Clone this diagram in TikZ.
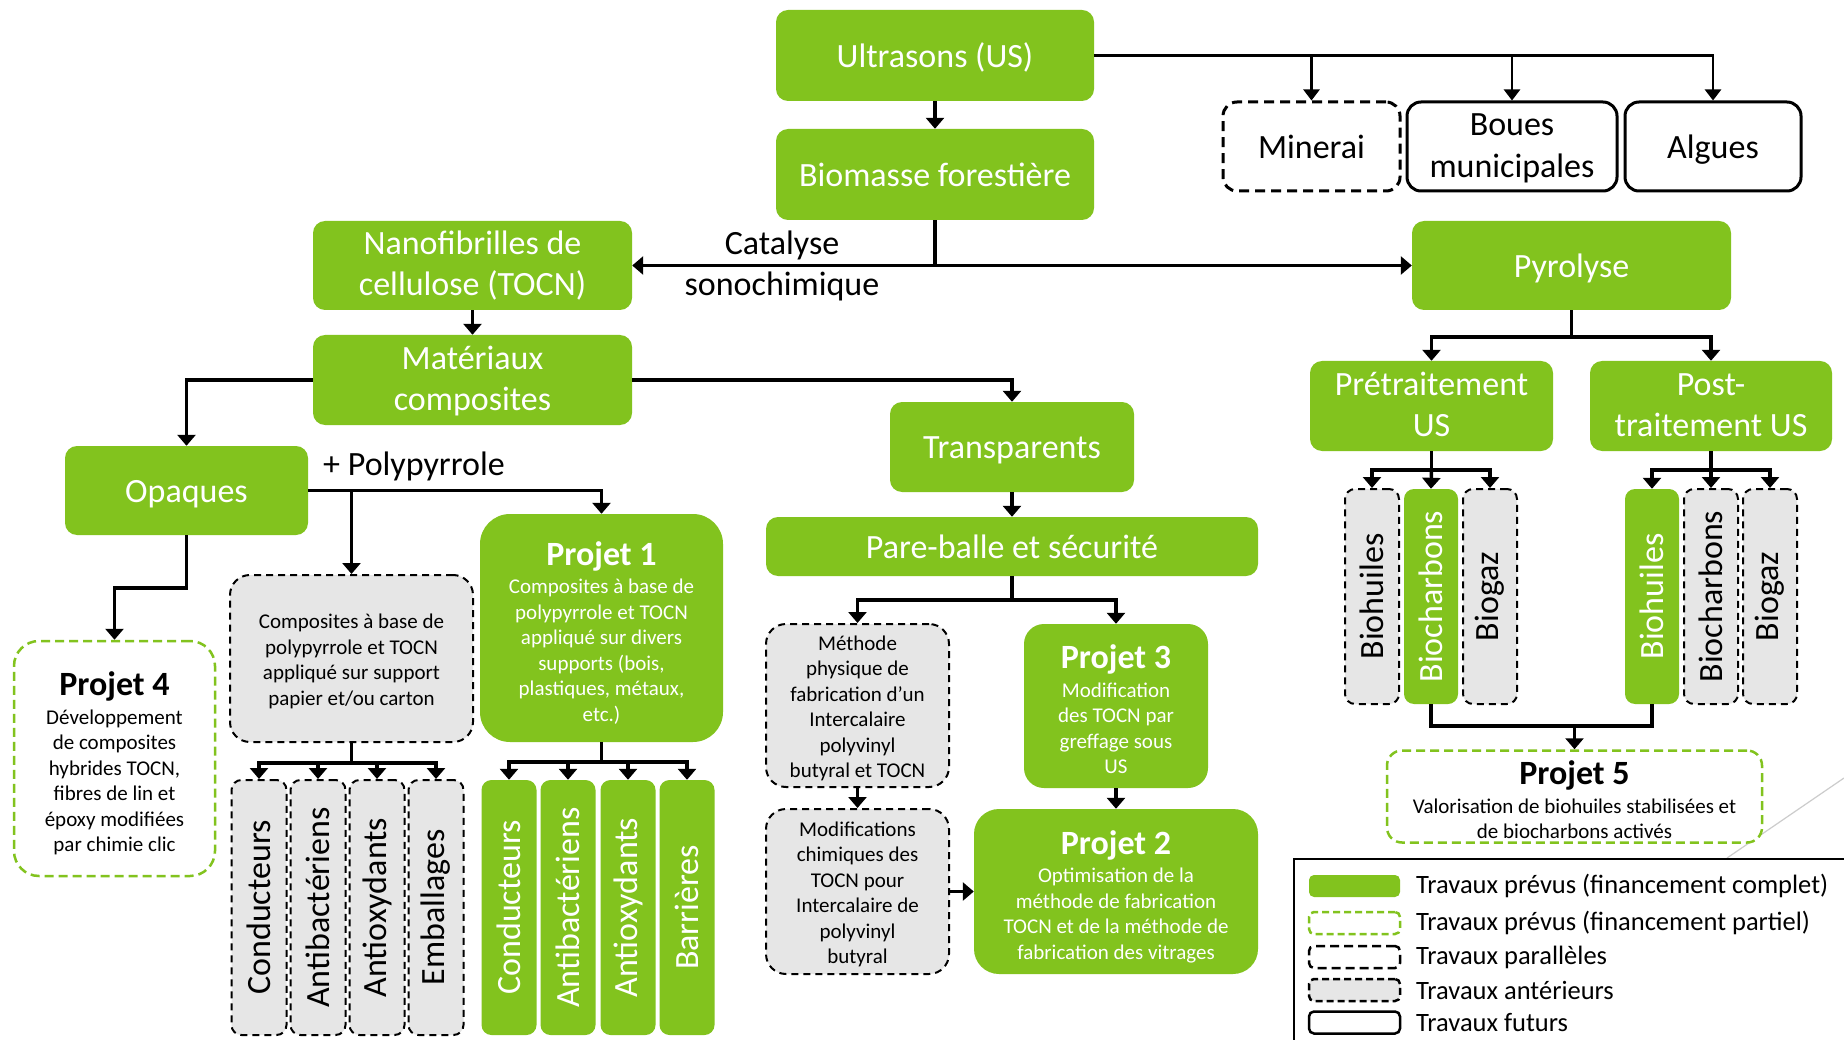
\documentclass[tikz,border=0pt]{standalone}
\usepackage{fontspec}
\setmainfont{Carlito}
\usepackage{graphicx}
\usetikzlibrary{arrows.meta,calc}
\definecolor{lime}{RGB}{130,195,30}
\definecolor{pale}{RGB}{230,230,230}
\newcommand\mymain{\fontsize{34}{41}\selectfont}
\newcommand\mybody{\fontsize{21}{25.5}\selectfont}
\newcommand\mytitle{\fontsize{34}{36}\selectfont\bfseries}
\newcommand\mylegend{\fontsize{26.5}{30}\selectfont}
\begin{document}
\begin{tikzpicture}[x=1pt,y=-1pt,
  sz/.style 2 args={minimum width=#1pt, minimum height=#2pt},
  mstrut/.style={execute at begin node={\rule{0pt}{31pt}}, execute at end node={\rule[-7.5pt]{0pt}{7.5pt}}},
  two/.style={text width=#1pt, align=flush center, execute at end node={\rule[-11.5pt]{0pt}{11.5pt}}},
  pstrut/.style={execute at begin node={\rule{0pt}{34pt}}, execute at end node={\rule[-4pt]{0pt}{4pt}}},
  bstrut/.style={execute at begin node={\rule{0pt}{21pt}}, execute at end node={\rule[-4.5pt]{0pt}{4.5pt}}},
  gbase/.style={fill=lime, draw=none, rounded corners=12pt, text=white, font=\mymain, align=center, inner sep=0pt},
  gbox/.style={gbase, mstrut},
  dbase/.style={fill=pale, draw=black, line width=2pt, dash pattern=on 7pt off 5pt, rounded corners=20pt, text=black, font=\mybody, align=center, inner sep=0pt},
  dbox/.style={dbase, bstrut, align=flush center},
  pjbox/.style={fill=lime, draw=none, text=white, font=\mybody, align=flush center, inner sep=0pt, pstrut},
  pdash/.style={fill=white, draw=lime, line width=2.5pt, dash pattern=on 9pt off 5pt, text=black, font=\mybody, align=flush center, inner sep=0pt, pstrut},
  mbox/.style={fill=white, draw=black, line width=3pt, dash pattern=on 10pt off 6pt, rounded corners=14pt, font=\mymain, align=center, inner sep=0pt, mstrut},
  fubox/.style={fill=white, draw=black, line width=3pt, rounded corners=14pt, font=\fontsize{34}{42}\selectfont, align=center, inner sep=0pt, mstrut},
  gvert/.style={gbase, rounded corners=10pt, sz={55}{255}},
  dvert/.style={dbase, rounded corners=10pt, font=\mymain, sz={55}{255}},
  gvs/.style={gbase, rounded corners=10pt, sz={54}{215}},
  dvs/.style={dbase, rounded corners=10pt, font=\mymain, sz={54}{215}},
  lbl/.style={font=\mymain, align=center, inner sep=0pt, text=black, mstrut},
  conn/.style={line width=3.5pt, draw=black},
  arr/.style={conn, -{Triangle[width=18pt,length=11pt]}},
  thinarr/.style={line width=2.5pt, draw=black, -{Triangle[width=16pt,length=11pt]}},
  legsw/.style={sz={91}{22}, rounded corners=5pt, line width=2.5pt, inner sep=0pt},
  legtxt/.style={font=\mylegend, anchor=west, inner sep=0pt, text=black}
]
\useasboundingbox (0,0) rectangle (1844,1040);
\fill[white] (0,0) rectangle (1844,1040);

% top row
\node[gbox, sz={318}{91}] (us) at (935,55.5) {Ultrasons (US)};
\node[gbox, sz={318}{91}] (bio) at (935,174.5) {Biomasse forestière};
\node[mbox, sz={177}{89}] (min) at (1311.5,146.5) {Minerai};
\node[fubox, two=200, sz={210}{89}] (bou) at (1512,146.5) {Boues\\municipales};
\node[fubox, sz={176}{89}] (alg) at (1713,146.5) {Algues};

\node[gbox, two=310, sz={319}{89}] (nano) at (472.5,265.5) {Nanofibrilles de\\cellulose (TOCN)};
\node[gbox, sz={319}{89}] (pyro) at (1571.5,265.5) {Pyrolyse};
\node[lbl, two=220] (cat) at (782,265.5) {Catalyse\\sonochimique};
\node[gbox, two=310, sz={319}{90}] (mat) at (472.5,380) {Matériaux\\composites};
\node[gbox, sz={243}{89}] (opa) at (186.5,490.5) {Opaques};
\node[lbl] (poly) at (414,464) {+ Polypyrrole};
\node[gbox, sz={244}{90}] (tra) at (1012,447) {Transparents};
\node[gbox, sz={492}{59}] (pb) at (1012,546.5) {Pare-balle et sécurité};
\node[gbox, two=235, sz={243}{90}] (pre) at (1431.5,406) {Prétraitement\\US};
\node[gbox, two=235, sz={242}{90}] (post) at (1711,406) {Post-\\traitement US};

% transparent branch
\node[dbox, sz={183}{163}, text width=177pt] (meth) at (857.5,705.5) {Méthode\\physique de\\fabrication d’un\\Intercalaire\\polyvinyl\\butyral et TOCN};
\node[pjbox, rounded corners=20pt, sz={184}{164}, text width=176pt] (p3) at (1116,706) {{\mytitle Projet 3\par}\vspace{3pt}Modification\\des TOCN par\\greffage sous\\US};
\node[dbox, sz={183}{165}, text width=177pt] (mod) at (857.5,891.5) {Modifications\\chimiques des\\TOCN pour\\Intercalaire de\\polyvinyl\\butyral};
\node[pjbox, rounded corners=25pt, sz={284}{165}, text width=276pt] (p2) at (1116,891.5) {{\mytitle Projet 2\par}\vspace{3pt}Optimisation de la\\méthode de fabrication\\TOCN et de la méthode de\\fabrication des vitrages};

% opaque branch
\node[pjbox, rounded corners=30pt, sz={243}{228}, text width=235pt] (p1) at (601.5,628) {{\mytitle Projet 1\par}\vspace{3pt}Composites à base de\\polypyrrole et TOCN\\appliqué sur divers\\supports (bois,\\plastiques, métaux,\\etc.)};
\node[dbox, sz={243}{167}, text width=235pt] (gc) at (351.5,658.5) {Composites à base de\\polypyrrole et TOCN\\appliqué sur support\\papier et/ou carton};
\node[pdash, rounded corners=25pt, sz={201}{235}, text width=193pt] (p4) at (114.5,758.5) {{\mytitle Projet 4\par}\vspace{3pt}Développement\\de composites\\hybrides TOCN,\\fibres de lin et\\époxy modifiées\\par chimie clic};

\node[dvert] (gc1) at (259,907.5) {\rotatebox{90}{Conducteurs}};
\node[dvert] (gc2) at (318,907.5) {\rotatebox{90}{Antibactériens}};
\node[dvert] (gc3) at (377,907.5) {\rotatebox{90}{Antioxydants}};
\node[dvert] (gc4) at (436,907.5) {\rotatebox{90}{Emballages}};
\node[gvert] (pc1) at (509,907.5) {\rotatebox{90}{Conducteurs}};
\node[gvert] (pc2) at (568,907.5) {\rotatebox{90}{Antibactériens}};
\node[gvert] (pc3) at (628,907.5) {\rotatebox{90}{Antioxydants}};
\node[gvert] (pc4) at (687,907.5) {\rotatebox{90}{Barrières}};

% pyrolysis branch
\node[dvs] (a1) at (1372,596.5) {\rotatebox{90}{Biohuiles}};
\node[gvs] (a2) at (1431,596.5) {\rotatebox{90}{Biocharbons}};
\node[dvs] (a3) at (1490,596.5) {\rotatebox{90}{Biogaz}};
\node[gvs] (c1) at (1652,596.5) {\rotatebox{90}{Biohuiles}};
\node[dvs] (c2) at (1711,596.5) {\rotatebox{90}{Biocharbons}};
\node[dvs] (c3) at (1770,596.5) {\rotatebox{90}{Biogaz}};

\draw[black!20, line width=1.2pt] (1727,858) -- (1844,778);
\node[pdash, rounded corners=15pt, sz={375}{89}, text width=367pt] (p5) at (1574.5,796.5) {{\mytitle Projet 5\par}\vspace{3pt}Valorisation de biohuiles stabilisées et\\de biocharbons activés};

% connectors
\draw[thinarr] (us.east) -| (alg.north);
\draw[thinarr] (us.east -| min.north) -- (min.north);
\draw[thinarr] (us.east -| bou.north) -- (bou.north);
\draw[arr] (us.south) -- (bio.north);
\draw[conn] (bio.south) -- (bio.south |- nano.east) coordinate (bj);
\draw[arr] (bj) -- (nano.east);
\draw[arr] (bj) -- (pyro.west);
\draw[arr] (nano.south) -- (mat.north);
\draw[arr] (mat.west) -| (opa.north);
\draw[arr] (mat.east) -| (tra.north);
\draw[arr] (tra.south) -- (pb.north);
\draw[conn] (pb.south) -- ++(0,24) coordinate (pbj);
\draw[arr] (pbj) -| (meth.north);
\draw[arr] (pbj) -| (p3.north);
\draw[arr] (meth.south) -- (mod.north);
\draw[arr] (p3.south) -- (p2.north);
\draw[arr] (mod.east) -- (p2.west);

\draw[arr] (opa.east) -| (p1.north);
\draw[arr] (opa.east -| gc.north) -- (gc.north);
\draw[arr] (opa.south) -- ++(0,53) -| (p4.north);
\draw[conn] (gc.south) -- ++(0,20) coordinate (gcj);
\draw[arr] (gcj) -| (gc1.north);
\draw[arr] (gcj) -| (gc2.north);
\draw[arr] (gcj) -| (gc3.north);
\draw[arr] (gcj) -| (gc4.north);
\draw[conn] (p1.south) -- ++(0,20) coordinate (p1j);
\draw[arr] (p1j) -| (pc1.north);
\draw[arr] (p1j) -| (pc2.north);
\draw[arr] (p1j) -| (pc3.north);
\draw[arr] (p1j) -| (pc4.north);

\draw[conn] (pyro.south) -- ++(0,27) coordinate (pyj);
\draw[arr] (pyj) -| (pre.north);
\draw[arr] (pyj) -| (post.north);
\draw[conn] (pre.south) -- ++(0,19) coordinate (prj);
\draw[arr] (prj) -| (a1.north);
\draw[arr] (prj) -- (a2.north);
\draw[arr] (prj) -| (a3.north);
\draw[conn] (post.south) -- ++(0,19) coordinate (poj);
\draw[arr] (poj) -| (c1.north);
\draw[arr] (poj) -- (c2.north);
\draw[arr] (poj) -| (c3.north);
\draw[conn] (a2.south) -- ++(0,22) coordinate (lowj) -| (c1.south);
\draw[arr] (lowj -| p5.north) -- (p5.north);

% legend
\draw[line width=1.5pt] (1294,1040) |- (1844,859);
\node[legsw, fill=lime, draw=none] (l1) at (1354.5,886) {};
\node[legsw, draw=lime, dash pattern=on 7pt off 4pt] (l2) at (1354.5,923) {};
\node[legsw, draw=black, dash pattern=on 9pt off 5pt] (l3) at (1354.5,957) {};
\node[legsw, draw=black, fill=pale, dash pattern=on 7pt off 4pt] (l4) at (1354.5,990) {};
\node[legsw, draw=black] (l5) at (1354.5,1022.5) {};
\node[legtxt] (t1) at (1416,886) {Travaux prévus (financement complet)};
\node[legtxt] (t2) at (1416,923) {Travaux prévus (financement partiel)};
\node[legtxt] (t3) at (1416,957) {Travaux parallèles};
\node[legtxt] (t4) at (1416,990) {Travaux antérieurs};
\node[legtxt] (t5) at (1416,1022.5) {Travaux futurs};
\end{tikzpicture}
\end{document}
